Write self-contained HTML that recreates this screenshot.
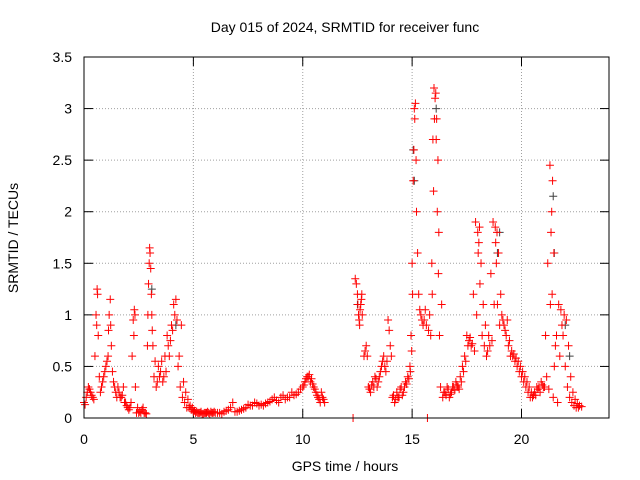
<!DOCTYPE html>
<html><head><meta charset="utf-8"><style>
body{margin:0;background:#fff}
svg{display:block;font-family:"Liberation Sans",sans-serif}
</style></head><body>
<svg id="chart" width="640" height="480" xmlns="http://www.w3.org/2000/svg">
<rect width="640" height="480" fill="#fff"/>
<text x="345" y="32" font-size="14" text-anchor="middle" fill="#000">Day 015 of 2024, SRMTID for receiver func</text>
<text x="345" y="471" font-size="14" text-anchor="middle">GPS time / hours</text>
<text transform="translate(18,238) rotate(-90)" font-size="14" text-anchor="middle">SRMTID / TECUs</text>
<g id="grid"></g><g id="axes"></g><g id="marks"></g>
<rect x="84" y="57" width="525" height="361" fill="none" stroke="#000" stroke-width="1"/>
</svg>
<script>
const xTicks=[0,5,10,15,20];
const yTicks=[0,0.5,1,1.5,2,2.5,3,3.5];
const yTickLabels=["0","0.5","1","1.5","2","2.5","3","3.5"];
const times=[0,0.1,0.2,0.3,0.4,0.5,0.55,0.6,0.65,0.7,0.75,0.8,0.9,1.0,1.1,1.15,1.2,1.25,1.3,1.35,1.4,1.5,1.6,1.7,1.8,1.9,2.0,2.1,2.2,2.25,2.3,2.35,2.4,2.5,2.6,2.7,2.8,2.9,2.95,3.0,3.05,3.1,3.15,3.2,3.3,3.4,3.5,3.6,3.7,3.8,3.9,4.0,4.1,4.2,4.3,4.4,4.5,4.6,4.7,4.8,4.9,5.0,5.1,5.2,5.3,5.4,5.5,5.6,5.7,5.8,5.9,6.0,6.2,6.4,6.6,6.8,7.0,7.2,7.4,7.6,7.8,8.0,8.2,8.4,8.6,8.8,9.0,9.2,9.4,9.6,9.8,10.0,10.1,10.2,10.3,10.4,10.5,10.6,10.7,10.8,10.9,11.0,12.3,12.4,12.5,12.55,12.6,12.65,12.7,12.8,12.9,13.0,13.1,13.2,13.3,13.4,13.5,13.6,13.7,13.8,13.9,14.0,14.1,14.2,14.3,14.4,14.5,14.6,14.7,14.8,14.9,14.95,15.0,15.05,15.1,15.15,15.2,15.3,15.4,15.5,15.6,15.7,15.75,15.8,15.9,15.95,16.0,16.05,16.1,16.15,16.2,16.25,16.3,16.4,16.5,16.6,16.7,16.8,16.9,17.0,17.1,17.2,17.3,17.4,17.5,17.6,17.7,17.8,17.9,18.0,18.05,18.1,18.2,18.3,18.4,18.5,18.6,18.7,18.8,18.85,18.9,19.0,19.1,19.2,19.3,19.4,19.5,19.6,19.7,19.8,19.9,20.0,20.1,20.2,20.3,20.4,20.5,20.6,20.7,20.8,20.9,21.0,21.1,21.2,21.3,21.35,21.4,21.45,21.5,21.6,21.7,21.8,21.9,22.0,22.1,22.2,22.3,22.4,22.5,22.6,22.7,22.8];
const values=[0.15,0.2,0.3,0.25,0.2,0.6,1.0,1.25,0.8,0.4,0.25,0.3,0.4,0.5,0.6,1.0,1.15,0.7,0.45,0.35,0.3,0.2,0.25,0.2,0.3,0.15,0.1,0.1,0.6,0.95,1.05,0.3,0.05,0.05,0.05,0.1,0.05,0.7,1.3,1.65,1.45,1.0,0.7,0.4,0.3,0.5,0.45,0.35,0.6,0.8,0.6,0.9,1.1,1.15,0.5,0.3,0.2,0.15,0.1,0.1,0.08,0.06,0.05,0.05,0.05,0.04,0.05,0.05,0.05,0.06,0.05,0.05,0.05,0.06,0.08,0.15,0.06,0.08,0.1,0.12,0.15,0.12,0.12,0.15,0.18,0.17,0.2,0.18,0.2,0.22,0.25,0.3,0.35,0.4,0.42,0.38,0.3,0.25,0.2,0.15,0.2,0.15,0.0,1.35,1.2,1.0,0.9,1.1,1.2,0.6,0.7,0.3,0.25,0.35,0.4,0.3,0.4,0.5,0.6,0.45,0.95,0.7,0.2,0.15,0.25,0.2,0.3,0.25,0.35,0.4,0.5,0.8,1.5,2.3,3.0,3.05,2.0,1.2,1.0,0.9,1.05,0.0,0.85,1.0,1.5,2.7,3.2,3.1,2.7,2.0,1.4,0.8,0.3,0.2,0.25,0.3,0.2,0.25,0.3,0.35,0.3,0.4,0.5,0.6,0.8,0.75,0.7,1.2,1.9,1.8,1.7,1.3,0.8,0.7,0.6,0.8,1.4,1.9,1.85,1.5,1.1,0.9,1.0,0.9,0.8,0.7,0.6,0.6,0.55,0.5,0.45,0.4,0.35,0.3,0.25,0.2,0.2,0.25,0.3,0.3,0.35,0.3,0.8,1.5,2.45,1.8,1.2,0.2,0.5,0.8,1.1,1.05,0.8,0.5,0.3,0.2,0.15,0.12,0.1,0.1];
const extraTimes=[0.05,0.15,0.25,0.35,0.45,0.58,0.62,0.85,0.95,1.05,1.12,1.22,1.45,1.55,1.65,1.75,1.85,1.95,2.05,2.15,2.28,2.33,2.45,2.55,2.65,2.75,2.85,2.92,2.98,3.02,3.08,3.12,3.25,3.35,3.45,3.55,3.65,3.75,3.85,3.95,4.05,4.15,4.25,4.35,4.45,4.55,4.65,4.75,4.85,4.95,5.05,5.15,5.25,5.35,5.45,5.55,5.65,5.75,5.85,5.95,6.1,6.3,6.5,6.7,6.9,7.1,7.3,7.5,7.7,7.9,8.1,8.3,8.5,8.7,8.9,9.1,9.3,9.5,9.7,9.9,10.05,10.15,10.25,10.35,10.45,10.55,10.65,10.75,10.85,10.95,12.45,12.52,12.58,12.62,12.68,12.72,12.85,12.95,13.05,13.15,13.25,13.35,13.45,13.55,13.65,13.75,13.85,13.95,14.05,14.15,14.25,14.35,14.45,14.55,14.65,14.75,14.85,14.92,14.98,15.02,15.08,15.12,15.18,15.25,15.35,15.45,15.55,15.65,15.85,15.92,15.98,16.02,16.08,16.12,16.18,16.22,16.35,16.45,16.55,16.65,16.75,16.85,16.95,17.05,17.15,17.25,17.35,17.45,17.55,17.65,17.75,17.85,17.95,18.02,18.08,18.15,18.25,18.35,18.45,18.55,18.65,18.75,18.82,18.88,18.95,19.05,19.15,19.25,19.35,19.45,19.55,19.65,19.75,19.85,19.95,20.05,20.15,20.25,20.35,20.45,20.55,20.65,20.75,20.85,20.95,21.05,21.15,21.25,21.32,21.38,21.42,21.48,21.55,21.65,21.75,21.85,21.95,22.05,22.15,22.25,22.35,22.45,22.55,22.65,22.75];
const extraValues=[0.13,0.25,0.28,0.22,0.18,0.9,1.2,0.35,0.45,0.55,0.85,0.9,0.25,0.3,0.2,0.22,0.15,0.12,0.08,0.15,0.8,1.0,0.1,0.06,0.08,0.05,0.04,1.0,1.5,1.6,1.2,0.85,0.55,0.35,0.4,0.55,0.4,0.45,0.7,0.75,0.85,1.0,0.95,0.6,0.9,0.35,0.25,0.18,0.12,0.1,0.07,0.06,0.05,0.06,0.04,0.05,0.06,0.04,0.05,0.06,0.05,0.04,0.07,0.1,0.06,0.07,0.09,0.13,0.12,0.14,0.13,0.14,0.16,0.2,0.15,0.22,0.2,0.25,0.23,0.28,0.32,0.38,0.4,0.35,0.33,0.28,0.22,0.18,0.25,0.18,1.3,1.1,0.95,1.05,1.15,1.0,0.65,0.6,0.28,0.32,0.3,0.38,0.35,0.45,0.55,0.5,0.55,0.85,0.6,0.22,0.18,0.2,0.28,0.22,0.3,0.33,0.38,0.45,0.65,1.2,2.6,2.9,2.5,1.6,1.05,0.95,0.95,0.9,0.8,1.2,2.2,2.9,3.15,2.9,2.5,1.8,1.1,0.25,0.22,0.28,0.23,0.3,0.27,0.32,0.28,0.35,0.45,0.55,0.7,0.78,0.72,0.65,1.0,1.6,1.85,1.5,1.1,0.9,0.65,0.7,0.75,1.1,1.7,1.8,1.6,1.2,0.95,0.85,0.95,0.75,0.65,0.62,0.58,0.55,0.5,0.45,0.4,0.35,0.3,0.25,0.22,0.22,0.28,0.25,0.32,0.3,0.4,0.28,1.1,2.0,2.3,1.6,0.7,0.15,0.6,0.9,1.0,0.95,0.7,0.4,0.25,0.18,0.14,0.12,0.11,0.09];
const grayTimes=[3.1,4.2,12.5,15.05,15.1,16.1,18.9,19.0,21.45,21.5,22.0,22.2];
const grayValues=[1.25,0.9,1.1,2.6,2.3,3.0,1.6,1.8,2.15,1.6,0.9,0.6];
const X=v=>84+v*(525/24), Y=v=>418-v*(361/3.5);
const NS="http://www.w3.org/2000/svg";
function mk(tag,attrs,parent,txt){const e=document.createElementNS(NS,tag);for(const k in attrs)e.setAttribute(k,attrs[k]);if(txt!==undefined)e.textContent=txt;parent.appendChild(e);return e;}
const grid=document.getElementById('grid'),axes=document.getElementById('axes'),marks=document.getElementById('marks');
xTicks.forEach(t=>{const x=X(t);
 if(t>0){const g=mk('line',{x1:x,x2:x,y1:57,y2:418,stroke:'#a0a0a0','stroke-dasharray':'1,2'},grid);
 
 }
 mk('line',{x1:x,x2:x,y1:418,y2:409,stroke:'#000'},axes);mk('line',{x1:x,x2:x,y1:57,y2:66,stroke:'#000'},axes);
 const l=mk('text',{x:x,y:444,'font-size':14,'text-anchor':'middle'},axes,String(t));
 
 });
yTicks.forEach((t,i)=>{const y=Y(t);
 if(t>0&&t<3.5){const g=mk('line',{x1:84,x2:609,y1:y,y2:y,stroke:'#a0a0a0','stroke-dasharray':'1,2'},grid);
 
 }
 mk('line',{x1:84,x2:93,y1:y,y2:y,stroke:'#000'},axes);mk('line',{x1:609,x2:600,y1:y,y2:y,stroke:'#000'},axes);
 const l=mk('text',{x:72,y:y+5,'font-size':14,'text-anchor':'end'},axes,yTickLabels[i]);
 
 });
function plus(t,v,color,name){const x=X(t),y=Y(v);
 const p=mk('path',{d:`M${x-4},${y}H${x+4}M${x},${y-4}V${y+4}`,stroke:color,'stroke-width':1},marks);
 
 }
grayTimes.forEach((t,i)=>plus(t,grayValues[i],'#404040','gray-point'));
times.forEach((t,i)=>plus(t,values[i],'#ff0000','srmtid-point'));
extraTimes.forEach((t,i)=>plus(t,extraValues[i],'#ff0000','srmtid-point'));
</script>
</body></html>
